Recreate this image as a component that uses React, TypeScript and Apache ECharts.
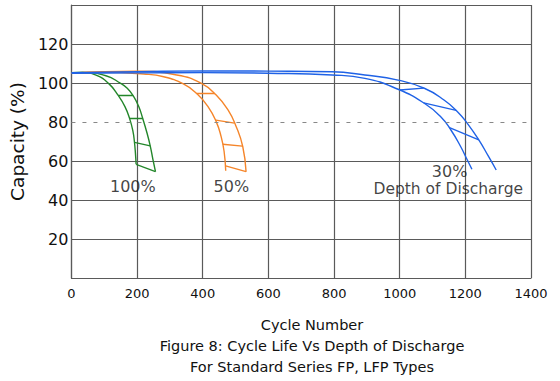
import React, { useEffect, useRef } from "react";
import * as echarts from "echarts";

const xTicks = [0, 200, 400, 600, 800, 1000, 1200, 1400];
const yTicks = [20, 40, 60, 80, 100, 120];

const green100Outer = [[0,105.3],[34,105.4],[105,103.7],[150,99.8],[170,97.3],[188,93.5],[205,87.9],[217,81.9],[230,74.5],[240,67.8],[248,61],[256,54.6]];
const green100Inner = [[0,105.3],[34,105.4],[75,104],[113,99.8],[143,93.5],[163,87.9],[177,81.9],[187,75.6],[192,69.6],[195,63.9],[197,58.3]];
const green100Rungs = [[[143,93.5],[188,93.5]],[[177,81.9],[217,81.9]],[[192,69.6],[240,67.8]],[[197,58.3],[256,54.6]]];

const orange50Outer = [[0,105],[100,105.8],[200,106],[321,104.1],[396,99.8],[441,93.8],[477,86.2],[502,77.6],[522,67.3],[532,54.5]];
const orange50Inner = [[0,105],[100,105.5],[220,104.6],[281,103.2],[341,99.5],[381,94.7],[416,87.9],[441,80.2],[456,72.5],[465,65],[470,55]];
const orange50Rungs = [[[381,94.7],[436,94.6]],[[440,81],[497,79.4]],[[461,68.6],[521,67.6]],[[469.5,57.5],[532,54.5]]];

const blue30Outer = [[0,105.3],[200,105.8],[400,106.2],[600,106.1],[794,105.8],[894,104.1],[995,101.5],[1075,97.3],[1135,91.3],[1176,85.3],[1206,79.3],[1241,70.8],[1271,62.2],[1294,55.4]];
const blue30Inner = [[0,105],[200,105.2],[400,105.3],[600,105],[794,104.1],[894,102.4],[995,96.8],[1075,89.6],[1125,82.7],[1156,75.9],[1186,67.3],[1206,60.5],[1220,55.8]];
const blue30Rungs = [[[1000,96.4],[1073,97.4]],[[1073,89.8],[1172,86]],[[1150,77.2],[1241,70.8]]];

const curveLabels = [
  { name: "100%", value: [187, 46.7], size: 16 },
  { name: "50%", value: [487, 46.7], size: 16 },
  { name: "30%", value: [1152, 54.4], size: 16 },
  { name: "Depth of Discharge", value: [1148, 45.6], size: 15.5 },
];
const dashedLevel = 80;
const xAxisTitle = "Cycle Number";
const yAxisTitle = "Capacity (%)";
const captionLines = ["Figure 8: Cycle Life Vs Depth of Discharge", "For Standard Series FP, LFP Types"];

const GREEN = "#23862a";
const ORANGE = "#f5852a";
const BLUE = "#1f62e6";
const GRID = "#5a5a5a";
const TEXT = "#111111";
const FONT = "DejaVu Sans";

function curve(data: number[][], color: string) {
  return {
    type: "line",
    data,
    smooth: 0.5,
    symbol: "none",
    lineStyle: { color, width: 1.4 },
    silent: true,
  };
}
function rungs(data: number[][][], color: string) {
  return {
    type: "lines",
    coordinateSystem: "cartesian2d",
    data: data.map((c) => ({ coords: c })),
    lineStyle: { color, width: 1.3, opacity: 1 },
    silent: true,
  };
}

export default function App() {
  const ref = useRef<HTMLDivElement>(null);
  useEffect(() => {
    const chart = echarts.init(ref.current!, null, { renderer: "svg" });
    const splitColors = [0, 20, 40, 60, 80, 100, 120, 140].map((v) => (v === dashedLevel ? "rgba(0,0,0,0)" : GRID));
    chart.setOption({
      animation: false,
      backgroundColor: "#ffffff",
      textStyle: { fontFamily: FONT },
      grid: { left: 67, right: 29, top: 5, bottom: 103, show: false },
      xAxis: {
        type: "value",
        min: 0,
        max: 1400,
        interval: 200,
        axisLine: { show: true, lineStyle: { color: GRID, width: 1.2 } },
        axisTick: { show: false },
        axisLabel: {
          color: TEXT,
          fontSize: 13,
          margin: 9,
          fontFamily: FONT,
          formatter: (v: number) => (xTicks.includes(v) ? String(v) : ""),
        },
        splitLine: { show: true, lineStyle: { color: GRID, width: 1.2 } },
      },
      yAxis: {
        type: "value",
        min: 0,
        max: 140,
        interval: 20,
        axisLine: { show: true, lineStyle: { color: GRID, width: 1.2 } },
        axisTick: { show: false },
        axisLabel: {
          color: TEXT,
          fontSize: 16,
          margin: 3,
          fontFamily: FONT,
          formatter: (v: number) => (yTicks.includes(v) ? String(v) : ""),
        },
        splitLine: { show: true, lineStyle: { color: splitColors, width: 1.2 } },
        name: yAxisTitle,
        nameLocation: "middle",
        nameGap: 42,
        nameRotate: 90,
        nameTextStyle: { color: TEXT, fontSize: 18.5, fontFamily: FONT },
      },
      graphic: [
        {
          type: "text",
          x: 312,
          y: 325,
          style: { text: xAxisTitle, fill: TEXT, font: `14.5px ${FONT}`, textAlign: "center", textVerticalAlign: "middle" },
        },
        ...captionLines.map((t, i) => ({
          type: "text",
          x: 312,
          y: 346 + i * 21,
          style: { text: t, fill: TEXT, font: `14.5px ${FONT}`, textAlign: "center", textVerticalAlign: "middle" },
        })),
      ],
      series: [
        {
          type: "line",
          data: [],
          markLine: {
            silent: true,
            symbol: "none",
            label: { show: false },
            lineStyle: { color: "#888", type: [4, 7], width: 1 },
            data: [{ yAxis: dashedLevel }],
          },
        },
        curve(green100Outer, GREEN),
        curve(green100Inner, GREEN),
        rungs(green100Rungs, GREEN),
        curve(orange50Outer, ORANGE),
        curve(orange50Inner, ORANGE),
        rungs(orange50Rungs, ORANGE),
        curve(blue30Outer, BLUE),
        curve(blue30Inner, BLUE),
        rungs(blue30Rungs, BLUE),
        {
          type: "scatter",
          data: curveLabels.map((d) => ({ name: d.name, value: d.value, label: { fontSize: d.size } })),
          symbolSize: 1,
          itemStyle: { color: "rgba(0,0,0,0)" },
          silent: true,
          label: {
            show: true,
            position: "inside",
            formatter: (p: any) => p.name,
            color: TEXT,
            fontFamily: FONT,
          },
        },
      ],
    });
    return () => chart.dispose();
  }, []);
  return <div ref={ref} style={{ position: "fixed", left: 0, top: 0, width: 560, height: 381 }} />;
}
